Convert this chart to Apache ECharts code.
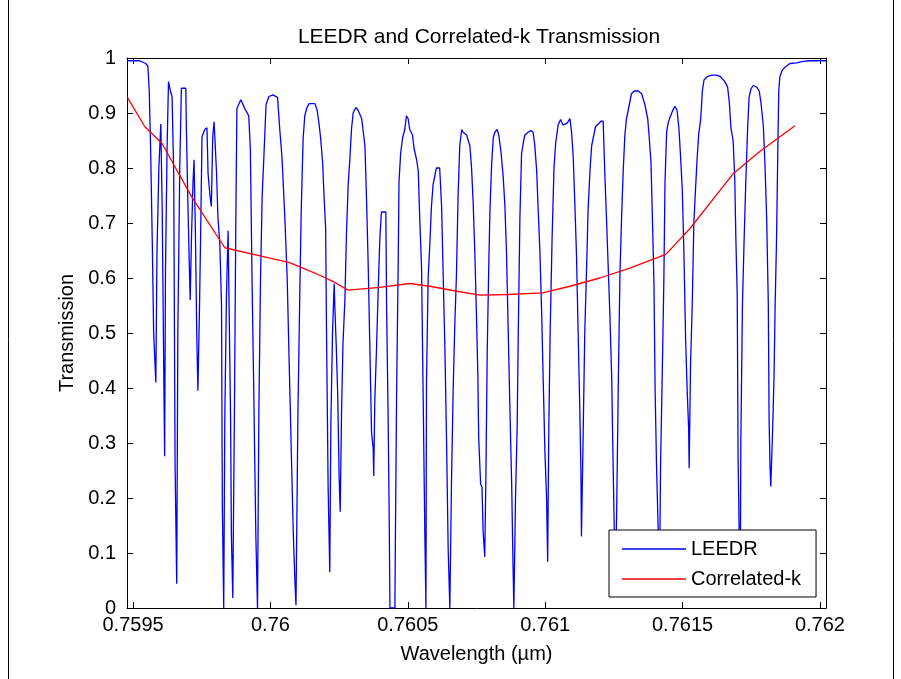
<!DOCTYPE html>
<html>
<head>
<meta charset="utf-8">
<script src="https://cdn.jsdelivr.net/npm/echarts@6/dist/echarts.min.js"></script>
<style>
html,body{margin:0;padding:0;background:#fff;}
#chart{width:901px;height:679px;}
</style>
</head>
<body>
<div id="chart"></div>
<script>
// ---- data ----
const titleText = 'LEEDR and Correlated-k Transmission';
const xName = 'Wavelength (\u00b5m)';
const yName = 'Transmission';
const seriesNames = ['LEEDR', 'Correlated-k'];
const xTicks = [0.7595, 0.76, 0.7605, 0.761, 0.7615, 0.762];
const xRange = [0.759478, 0.762022];

const leedrWl = [
0.759478,0.759524,0.759546,0.759554,0.759559,0.759564,0.759570,0.759575,0.759583,0.759587,
0.759594,0.759601,0.759606,0.759612,0.759615,0.759618,0.759624,0.759629,0.759636,0.759642,
0.759648,0.759653,0.759659,0.759663,0.759670,0.759676,0.759692,0.759694,0.759699,0.759705,
0.759708,0.759713,0.759718,0.759722,0.759727,0.759732,0.759736,0.759742,0.759746,0.759751,
0.759761,0.759769,0.759773,0.759780,0.759785,0.759790,0.759795,0.759804,0.759809,0.759816,
0.759822,0.759825,0.759830,0.759834,0.759840,0.759846,0.759849,0.759855,0.759858,0.759863,
0.759869,0.759874,0.759878,0.759892,0.759907,0.759921,0.759927,0.759933,0.759939,0.759947,
0.759953,0.759958,0.759964,0.759970,0.759977,0.759984,0.759994,0.760010,0.760026,0.760034,
0.760042,0.760052,0.760061,0.760069,0.760077,0.760083,0.760089,0.760093,0.760100,0.760107,
0.760112,0.760119,0.760125,0.760133,0.760141,0.760162,0.760170,0.760177,0.760183,0.760190,
0.760195,0.760201,0.760204,0.760210,0.760216,0.760220,0.760226,0.760232,0.760235,0.760240,
0.760245,0.760250,0.760254,0.760259,0.760264,0.760271,0.760277,0.760283,0.760289,0.760295,
0.760301,0.760311,0.760319,0.760332,0.760344,0.760350,0.760356,0.760362,0.760368,0.760374,
0.760376,0.760380,0.760386,0.760392,0.760398,0.760404,0.760420,0.760423,0.760428,0.760432,
0.760435,0.760453,0.760455,0.760459,0.760465,0.760468,0.760474,0.760481,0.760489,0.760495,
0.760501,0.760507,0.760517,0.760523,0.760532,0.760538,0.760544,0.760550,0.760556,0.760562,
0.760566,0.760568,0.760574,0.760580,0.760586,0.760592,0.760598,0.760604,0.760616,0.760623,
0.760629,0.760635,0.760641,0.760647,0.760653,0.760659,0.760665,0.760671,0.760677,0.760683,
0.760689,0.760696,0.760701,0.760714,0.760726,0.760732,0.760738,0.760744,0.760750,0.760755,
0.760758,0.760765,0.760770,0.760774,0.760780,0.760784,0.760789,0.760795,0.760799,0.760805,
0.760811,0.760817,0.760825,0.760831,0.760839,0.760847,0.760853,0.760859,0.760865,0.760871,
0.760878,0.760883,0.760886,0.760892,0.760898,0.760902,0.760908,0.760914,0.760920,0.760926,
0.760938,0.760948,0.760956,0.760962,0.760969,0.760974,0.760981,0.760987,0.760993,0.760999,
0.761005,0.761009,0.761013,0.761018,0.761025,0.761032,0.761038,0.761047,0.761056,0.761065,
0.761072,0.761081,0.761090,0.761096,0.761102,0.761108,0.761114,0.761120,0.761126,0.761130,
0.761132,0.761138,0.761144,0.761151,0.761156,0.761163,0.761169,0.761175,0.761183,0.761193,
0.761203,0.761211,0.761217,0.761223,0.761229,0.761235,0.761242,0.761247,0.761251,0.761255,
0.761260,0.761266,0.761272,0.761278,0.761284,0.761290,0.761296,0.761302,0.761308,0.761314,
0.761324,0.761338,0.761351,0.761363,0.761373,0.761378,0.761385,0.761391,0.761396,0.761400,
0.761405,0.761411,0.761416,0.761420,0.761426,0.761432,0.761436,0.761442,0.761448,0.761454,
0.761462,0.761472,0.761480,0.761487,0.761493,0.761499,0.761505,0.761511,0.761517,0.761522,
0.761524,0.761529,0.761535,0.761541,0.761547,0.761553,0.761559,0.761566,0.761572,0.761578,
0.761590,0.761606,0.761624,0.761638,0.761654,0.761664,0.761670,0.761676,0.761684,0.761690,
0.761694,0.761699,0.761702,0.761706,0.761710,0.761712,0.761718,0.761724,0.761730,0.761737,
0.761742,0.761749,0.761757,0.761770,0.761779,0.761785,0.761794,0.761800,0.761806,0.761812,
0.761815,0.761818,0.761821,0.761828,0.761833,0.761837,0.761842,0.761846,0.761850,0.761854,
0.761863,0.761872,0.761891,0.761915,0.761939,0.761964,0.762022
];
const leedrT = [
0.995,0.995,0.99,0.985,0.94,0.834,0.666,0.50,0.41,0.644,
0.80,0.88,0.73,0.42,0.276,0.61,0.84,0.957,0.94,0.93,
0.79,0.26,0.044,0.50,0.80,0.945,0.945,0.875,0.75,0.62,
0.56,0.68,0.77,0.815,0.68,0.495,0.395,0.55,0.68,0.857,
0.87,0.873,0.79,0.75,0.73,0.857,0.884,0.79,0.71,0.66,
0.55,0.185,0.0,0.345,0.57,0.686,0.57,0.345,0.13,0.018,
0.36,0.70,0.908,0.924,0.908,0.895,0.834,0.60,0.405,0.13,
0.0,0.36,0.60,0.75,0.83,0.915,0.93,0.933,0.928,0.87,
0.82,0.715,0.60,0.43,0.263,0.14,0.05,0.005,0.35,0.575,
0.72,0.853,0.895,0.91,0.917,0.917,0.905,0.88,0.853,0.81,
0.75,0.69,0.51,0.22,0.065,0.335,0.50,0.59,0.54,0.47,
0.385,0.24,0.175,0.36,0.48,0.56,0.685,0.77,0.815,0.87,
0.90,0.91,0.905,0.89,0.84,0.74,0.62,0.47,0.32,0.29,
0.24,0.38,0.47,0.575,0.67,0.72,0.72,0.54,0.36,0.18,
0.0,0.0,0.135,0.38,0.625,0.775,0.827,0.855,0.87,0.895,
0.89,0.87,0.86,0.835,0.815,0.795,0.70,0.62,0.38,0.135,
0.0,0.41,0.60,0.66,0.73,0.77,0.785,0.80,0.80,0.73,
0.60,0.47,0.305,0.105,0.0,0.23,0.395,0.515,0.605,0.75,
0.84,0.87,0.865,0.86,0.84,0.80,0.735,0.645,0.53,0.42,
0.31,0.225,0.22,0.14,0.093,0.23,0.465,0.632,0.723,0.806,
0.855,0.865,0.87,0.86,0.83,0.785,0.735,0.65,0.515,0.375,
0.225,0.077,0.0,0.20,0.33,0.50,0.71,0.826,0.845,0.86,
0.865,0.868,0.865,0.842,0.795,0.73,0.645,0.54,0.41,0.284,
0.20,0.084,0.32,0.50,0.67,0.80,0.845,0.878,0.888,0.878,
0.875,0.882,0.89,0.865,0.82,0.735,0.64,0.50,0.36,0.25,
0.13,0.31,0.50,0.625,0.722,0.795,0.84,0.855,0.875,0.88,
0.885,0.885,0.79,0.71,0.625,0.54,0.42,0.265,0.155,0.04,
0.17,0.405,0.605,0.71,0.795,0.86,0.89,0.905,0.92,0.935,
0.94,0.94,0.935,0.915,0.89,0.86,0.81,0.695,0.585,0.40,
0.263,0.147,0.05,0.263,0.425,0.60,0.773,0.866,0.883,0.892,
0.902,0.912,0.905,0.87,0.818,0.76,0.644,0.49,0.392,0.328,
0.254,0.444,0.547,0.70,0.76,0.818,0.863,0.889,0.94,0.96,
0.966,0.969,0.969,0.966,0.957,0.947,0.92,0.873,0.85,0.78,
0.67,0.566,0.276,0.14,0.04,0.30,0.554,0.67,0.773,0.876,
0.928,0.944,0.95,0.947,0.94,0.92,0.876,0.805,0.71,0.554,
0.34,0.263,0.221,0.328,0.425,0.554,0.67,0.81,0.94,0.966,
0.978,0.983,0.99,0.991,0.994,0.995,0.995
];

const ckWl = [
0.759480,0.759543,0.759605,0.759714,0.759834,0.759998,0.760070,0.760118,0.760180,0.760227,
0.760282,0.760398,0.760507,0.760580,0.760689,0.760762,0.760864,0.760991,0.761090,0.761199,
0.761308,0.761439,0.761527,0.761683,0.761781,0.761909
];
const ckT = [
0.928,0.875,0.845,0.747,0.655,0.636,0.628,0.618,0.605,0.594,
0.578,0.583,0.59,0.585,0.575,0.569,0.57,0.573,0.585,0.6,
0.618,0.643,0.69,0.789,0.83,0.877
];

// ---- chart ----
const font = 'Liberation Sans, Arial, sans-serif';
const zip = (a, b) => a.map((v, i) => [v, b[i]]);
const chart = echarts.init(document.getElementById('chart'), null, {renderer: 'canvas'});

const tickStyle = {show: true, inside: true, length: 6, lineStyle: {color: '#000', width: 1}};
const axisLineStyle = {show: true, onZero: false, lineStyle: {color: '#000', width: 1}};

chart.setOption({
  animation: false,
  backgroundColor: '#fff',
  title: {
    text: titleText,
    left: 474,
    top: 22,
    textAlign: 'center',
    textStyle: {fontFamily: font, fontSize: 21, fontWeight: 'normal', color: '#000'}
  },
  grid: {left: 127, top: 58, right: 75, bottom: 71, containLabel: false},
  legend: {
    data: seriesNames,
    orient: 'vertical',
    left: 609,
    top: 530,
    padding: [8, 15, 7, 13],
    itemGap: 8,
    itemWidth: 64,
    itemHeight: 1.5,
    icon: 'rect',
    backgroundColor: '#fff',
    borderColor: '#000',
    borderWidth: 1,
    borderRadius: 0,
    textStyle: {fontFamily: font, fontSize: 20, color: '#000', lineHeight: 22}
  },
  xAxis: [
    {
      type: 'value', position: 'bottom', min: xRange[0], max: xRange[1],
      name: xName, nameLocation: 'middle', nameGap: 36,
      nameTextStyle: {fontFamily: font, fontSize: 20, color: '#000'},
      axisLine: axisLineStyle,
      axisTick: Object.assign({customValues: xTicks}, tickStyle),
      axisLabel: {customValues: xTicks, formatter: v => String(v), margin: 7,
        fontFamily: font, fontSize: 20, color: '#000', showMinLabel: true, showMaxLabel: true},
      splitLine: {show: false}
    },
    {
      type: 'value', position: 'top', min: xRange[0], max: xRange[1],
      axisLine: axisLineStyle,
      axisTick: Object.assign({customValues: xTicks}, tickStyle),
      axisLabel: {show: false},
      splitLine: {show: false}
    }
  ],
  yAxis: [
    {
      type: 'value', position: 'left', min: 0, max: 1, interval: 0.1,
      name: yName, nameLocation: 'middle', nameGap: 48, nameRotate: 90,
      nameTextStyle: {fontFamily: font, fontSize: 20, color: '#000'},
      axisLine: axisLineStyle,
      axisTick: tickStyle,
      axisLabel: {margin: 11, fontFamily: font, fontSize: 20, color: '#000',
        formatter: v => String(Math.round(v * 10) / 10)},
      splitLine: {show: false}
    },
    {
      type: 'value', position: 'right', min: 0, max: 1, interval: 0.1,
      axisLine: axisLineStyle,
      axisTick: tickStyle,
      axisLabel: {show: false},
      splitLine: {show: false}
    }
  ],
  series: [
    {
      name: seriesNames[0], type: 'line', xAxisIndex: 0, yAxisIndex: 0,
      data: zip(leedrWl, leedrT), showSymbol: false, symbol: 'none',
      sampling: null, color: '#0000ff',
      lineStyle: {color: '#0000ff', width: 1.3}, z: 2
    },
    {
      name: seriesNames[1], type: 'line', xAxisIndex: 0, yAxisIndex: 0,
      data: zip(ckWl, ckT), showSymbol: false, symbol: 'none',
      color: '#ff0000',
      lineStyle: {color: '#ff0000', width: 1.3}, z: 3
    }
  ],
  graphic: [
    {type: 'line', shape: {x1: 8.5, y1: 0, x2: 8.5, y2: 679}, style: {stroke: '#000', lineWidth: 1}},
    {type: 'line', shape: {x1: 893.5, y1: 0, x2: 893.5, y2: 679}, style: {stroke: '#000', lineWidth: 1}}
  ]
});
</script>
</body>
</html>
